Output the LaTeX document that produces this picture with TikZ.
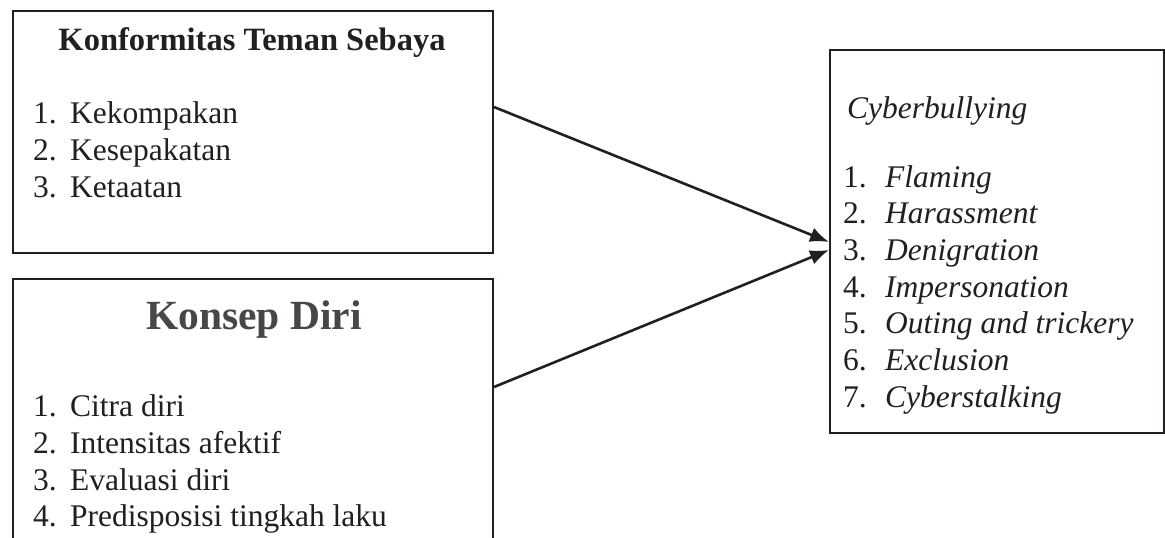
\documentclass[tikz,border=0pt]{standalone}
\usepackage{fontspec}
\setmainfont{Liberation Serif}
\usetikzlibrary{arrows.meta,calc}
\definecolor{ink}{HTML}{231F20}
\definecolor{titlegray}{HTML}{4A4546}
\tikzset{
  box/.style={draw=ink, line width=2pt, inner sep=0pt, anchor=north west},
  txt/.style={anchor=base west, inner sep=0pt, text=ink, font=\fontsize{31.5}{37}\selectfont},
  ttl/.style={anchor=base, inner sep=0pt, text=ink, font=\fontsize{32.5}{40}\selectfont\bfseries},
  conn/.style={draw=ink, line width=2.6pt, -{Latex[length=19pt,width=15pt]}}
}
\begin{document}
\begin{tikzpicture}[x=1pt,y=-1pt]
\clip (0,0) rectangle (1165,538);
\fill[white] (0,0) rectangle (1165,538);
% boxes
\node[box, minimum width=480pt, minimum height=242pt] (k) at (12,10) {};
\node[box, minimum width=480pt, minimum height=300pt] (d) at (12,278) {};
\node[box, minimum width=334pt, minimum height=383pt] (c) at (829,49) {};
% box 1
\node[ttl] (kt) at (252,50) {Konformitas Teman Sebaya};
\node[txt] (k1) at (33,123) {\makebox[37pt][l]{1.}Kekompakan};
\node[txt] (k2) at (33,160) {\makebox[37pt][l]{2.}Kesepakatan};
\node[txt] (k3) at (33,197) {\makebox[37pt][l]{3.}Ketaatan};
% box 2
\node[ttl, text=titlegray, font=\fontsize{41.5}{48}\selectfont\bfseries] (dt) at (254,329) {Konsep Diri};
\node[txt] (d1) at (33,416.7) {\makebox[37pt][l]{1.}Citra diri};
\node[txt] (d2) at (33,453.3) {\makebox[37pt][l]{2.}Intensitas afektif};
\node[txt] (d3) at (33,490) {\makebox[37pt][l]{3.}Evaluasi diri};
\node[txt] (d4) at (33,526.7) {\makebox[37pt][l]{4.}Predisposisi tingkah laku};
% box 3
\node[txt] (ct) at (847,118) {\itshape Cyberbullying};
\node[txt] (c1) at (843,187) {\makebox[42pt][l]{1.}\itshape Flaming};
\node[txt] (c2) at (843,223.7) {\makebox[42pt][l]{2.}\itshape Harassment};
\node[txt] (c3) at (843,260.3) {\makebox[42pt][l]{3.}\itshape Denigration};
\node[txt] (c4) at (843,297) {\makebox[42pt][l]{4.}\itshape Impersonation};
\node[txt] (c5) at (843,333.7) {\makebox[42pt][l]{5.}\itshape Outing and trickery};
\node[txt] (c6) at (843,370.3) {\makebox[42pt][l]{6.}\itshape Exclusion};
\node[txt] (c7) at (843,407) {\makebox[42pt][l]{7.}\itshape Cyberstalking};
% connectors
\coordinate (ks) at ($(k.north east)+(0,97)$);
\coordinate (ds) at ($(d.north east)+(0,109)$);
\coordinate (ce1) at ($(c.north west)+(0,193)$);
\coordinate (ce2) at ($(c.north west)+(0,201)$);
\draw[conn] (ks) -- (ce1);
\draw[conn] (ds) -- (ce2);
\end{tikzpicture}
\end{document}
